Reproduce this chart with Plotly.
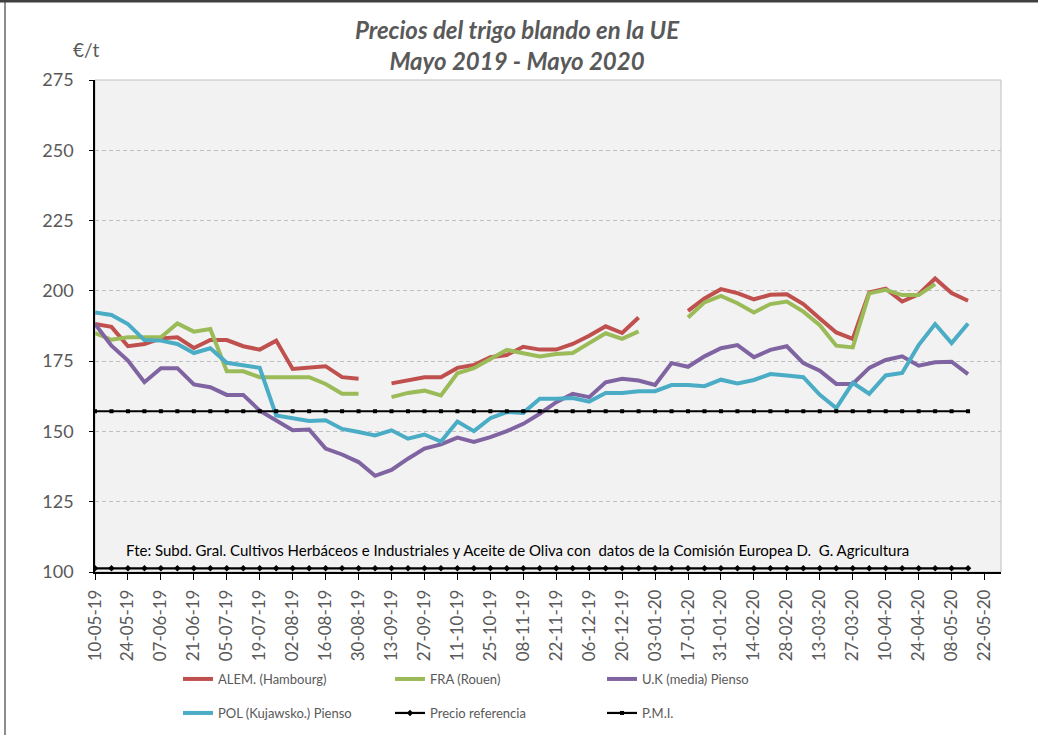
import pandas as pd
import plotly.graph_objects as go

# ---------------- data ----------------
fechas = pd.date_range("2019-05-10", periods=54, freq="7D")

alem = [188.2, 187.2, 180.3, 181.1, 183.1, 183.5, 179.7, 182.5, 182.5, 180.3, 179.1, 182.3,
        172.2, 172.7, 173.2, 169.3, 168.7, None, 167.1, 168.3, 169.3, 169.3, 172.6, 173.6,
        176.4, 177.2, 180.1, 179.1, 179.1, 181.1, 184.0, 187.4, 185.0, 190.5, None, None,
        192.9, 197.3, 200.6, 199.2, 197.0, 198.6, 198.8, 195.3, 190.2, 185.2, 182.9, 199.4,
        200.8, 196.2, 198.8, 204.4, 199.2, 196.5]

fra = [185.0, 182.6, 183.5, 183.5, 183.5, 188.4, 185.5, 186.4, 171.4, 171.4, 169.3, 169.3,
       169.3, 169.3, 166.9, 163.4, 163.4, None, 162.2, 163.7, 164.5, 162.8, 170.7, 172.5,
       175.8, 179.0, 177.8, 176.7, 177.5, 177.9, 181.4, 184.9, 182.9, 185.6, None, None,
       190.5, 195.9, 198.2, 195.6, 192.3, 195.3, 196.2, 192.6, 187.8, 180.5, 179.9, 199.1,
       200.4, 198.5, 198.5, 202.4, None, None]

uk = [188.2, 180.5, 175.2, 167.5, 172.5, 172.5, 166.7, 165.7, 163.0, 163.0, 157.4, 153.9,
      150.4, 150.7, 143.9, 141.8, 139.1, 134.2, 136.3, 140.3, 143.9, 145.4, 147.8, 146.3,
      148.0, 150.1, 152.7, 156.3, 160.4, 163.4, 162.2, 167.5, 168.7, 168.1, 166.5, 174.3,
      173.0, 176.7, 179.6, 180.7, 176.4, 179.0, 180.3, 174.3, 171.6, 166.9, 166.9, 172.6,
      175.4, 176.7, 173.4, 174.6, 174.8, 170.4]

pol = [192.3, 191.4, 188.2, 182.5, 182.3, 181.1, 177.9, 179.6, 174.4, 173.4, 172.6, 155.7,
       154.8, 153.7, 154.0, 150.9, 149.8, 148.6, 150.4, 147.4, 148.9, 146.4, 153.5, 150.1,
       154.7, 156.9, 156.6, 161.6, 161.6, 161.9, 160.6, 163.7, 163.7, 164.3, 164.3, 166.5,
       166.5, 166.1, 168.4, 167.1, 168.3, 170.4, 169.9, 169.3, 163.0, 158.3, 167.3, 163.4,
       169.9, 170.8, 180.7, 188.2, 181.4, 188.4]

PRECIO_REFERENCIA = 101.31
PMI = 157.18
precio_ref = [PRECIO_REFERENCIA] * len(fechas)
pmi = [PMI] * len(fechas)

nombres = ["ALEM. (Hambourg)", "FRA (Rouen)", "U.K (media) Pienso",
           "POL (Kujawsko.) Pienso", "Precio referencia", "P.M.I."]
colores = ["#C0504D", "#9BBB59", "#8064A2", "#4BACC6"]

FONT = "Lato"
GREY = "#595959"

# ---------------- figure ----------------
fig = go.Figure()

series = [alem, fra, uk, pol]
for k, (vals, col) in enumerate(zip(series, colores)):
    fig.add_trace(go.Scatter(
        x=fechas, y=vals, name=nombres[k], mode="lines",
        line=dict(color=col, width=4), connectgaps=False,
        legend="legend" if k < 3 else "legend2",
    ))

fig.add_trace(go.Scatter(
    x=fechas, y=precio_ref, name=nombres[4], mode="lines+markers",
    line=dict(color="black", width=2.2),
    marker=dict(symbol="diamond", size=5, color="black"),
    legend="legend2",
))
fig.add_trace(go.Scatter(
    x=fechas, y=pmi, name=nombres[5], mode="lines+markers",
    line=dict(color="black", width=2.2),
    marker=dict(symbol="square", size=4, color="black"),
    legend="legend2",
))

W, H = 1038, 735
L, R, T, B = 95, 37, 80, 163
PW, PH = W - L - R, H - T - B


def px_x(p):
    return (p - L) / PW


def px_y(p):
    return (H - B - p) / PH


legend_common = dict(
    orientation="h", xref="paper", yref="container", xanchor="left", yanchor="middle",
    entrywidth=167, entrywidthmode="pixels", bgcolor="rgba(0,0,0,0)",
    font=dict(family=FONT, size=13, color=GREY), traceorder="normal",
)

fig.update_layout(
    width=W, height=H,
    margin=dict(l=L, r=R, t=T, b=B, pad=0, autoexpand=False),
    paper_bgcolor="white",
    plot_bgcolor="#F2F2F2",
    font=dict(family=FONT, size=14, color=GREY),
    title=dict(
        text="<b><i>Precios del trigo blando en la UE<br>Mayo 2019 - Mayo 2020</i></b>",
        x=px_x(517), xref="paper", xanchor="center",
        y=(H - 39) / H, yref="container", yanchor="middle",
        font=dict(family=FONT, size=24, color=GREY),
    ),
    xaxis=dict(
        type="date",
        range=["2019-05-10", "2020-05-29"],
        tick0="2019-05-10", dtick=14 * 86400000,
        tickformat="%d-%m-%y", tickangle=-90,
        ticks="outside", ticklen=6, tickcolor="black", tickwidth=1,
        ticklabelstandoff=3, automargin=False,
        showline=True, linecolor="black", linewidth=1.5,
        showgrid=False, zeroline=False,
        tickfont=dict(family=FONT, size=17, color=GREY),
    ),
    yaxis=dict(
        range=[100, 275], dtick=25, tick0=100,
        showline=True, linecolor="black", linewidth=1.5,
        ticks="outside", ticklen=4, tickcolor="black",
        ticklabelstandoff=12, automargin=False,
        showgrid=True, gridcolor="#BFBFBF", griddash="4px,3px", gridwidth=1,
        zeroline=False,
        tickfont=dict(family=FONT, size=18, color=GREY),
    ),
    legend=dict(x=px_x(178), y=(H - 679) / H, **legend_common),
    legend2=dict(x=px_x(178), y=(H - 713) / H, **legend_common),
    showlegend=True,
)

fig.add_annotation(
    text="€/t", xref="paper", yref="paper", x=px_x(86), y=px_y(50),
    xanchor="center", yanchor="middle", showarrow=False,
    font=dict(family=FONT, size=19, color=GREY),
)
fig.add_annotation(
    text="Fte: Subd. Gral. Cultivos Herbáceos e Industriales y Aceite de Oliva con  datos de la Comisión Europea D.  G. Agricultura",
    xref="paper", yref="paper", x=px_x(517), y=px_y(550),
    xanchor="center", yanchor="middle", showarrow=False,
    font=dict(family=FONT, size=15, color="black"),
)

# plot-area outline (light grey) and outer frame (top and left edges visible)
fig.add_shape(type="rect", xref="paper", yref="paper", x0=0, x1=1, y0=0, y1=1,
              line=dict(color="#BFBFBF", width=1), layer="below")
fig.add_shape(type="line", xref="paper", yref="paper",
              x0=px_x(0), x1=px_x(W), y0=px_y(1.2), y1=px_y(1.2),
              line=dict(color="#404040", width=2.4))
fig.add_shape(type="line", xref="paper", yref="paper",
              x0=px_x(5), x1=px_x(5), y0=px_y(1.2), y1=px_y(H),
              line=dict(color="#404040", width=1.2))

fig.write_html("out.html", config={"displayModeBar": False},
               post_script="document.body.style.margin='0';")
